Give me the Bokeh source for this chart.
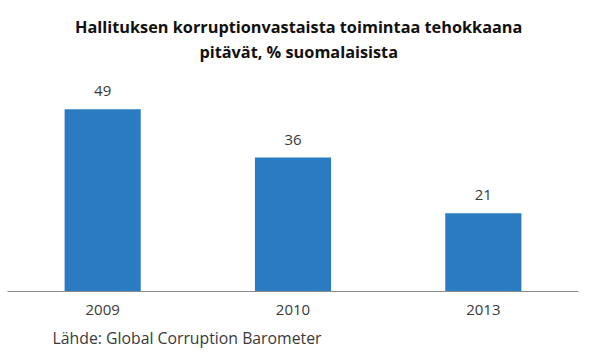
from bokeh.plotting import figure
from bokeh.models import ColumnDataSource, Range1d, LabelSet, Label, FactorRange, Title
from bokeh.core.properties import value
from bokeh.embed import file_html
from bokeh.resources import INLINE

years = ["2009", "2010", "2013"]
values = [49, 36, 21]
title_line1 = "Hallituksen korruptionvastaista toimintaa tehokkaana"
title_line2 = "pitävät, % suomalaisista"
source_text = "Lähde: Global Corruption Barometer"

FONT = "Open Sans"
BAR = "#2a7bc1"
TXT = "#3a3a3a"

src = ColumnDataSource(dict(x=years, top=values, lab=[str(v) for v in values]))

p = figure(x_range=FactorRange(*years, range_padding=0), y_range=Range1d(0, 78.2),
           frame_width=571, frame_height=291,
           min_border_left=7, min_border_right=6, min_border_top=0, min_border_bottom=57,
           output_backend="svg", toolbar_location=None, y_axis_location=None,
           outline_line_color=None, background_fill_color="white", border_fill_color="white")

p.vbar(x="x", top="top", width=0.4, source=src, fill_color=BAR, line_color=None)

p.xgrid.visible = False
p.ygrid.visible = False
ax = p.xaxis[0]
ax.axis_line_color = "#8c8c8c"
ax.axis_line_width = 1.2
ax.major_tick_line_color = None
ax.minor_tick_line_color = None
ax.major_tick_out = 0
ax.major_tick_in = 0
ax.major_label_standoff = 13
ax.major_label_text_font = FONT
ax.major_label_text_font_size = "15px"
ax.major_label_text_color = TXT

labels = LabelSet(x="x", y="top", text="lab", source=src, y_offset=18,
                  text_align="center", text_baseline="middle",
                  text_font=value(FONT), text_font_size=value("15px"), text_color=TXT)
p.add_layout(labels)

p.add_layout(Label(x=1.530, y=71.0, text=title_line1, text_align="center", text_baseline="middle",
                   text_font=FONT, text_font_style="bold", text_font_size="16.3px", text_color="#111111"))
p.add_layout(Label(x=1.530, y=64.4, text=title_line2, text_align="center", text_baseline="middle",
                   text_font=FONT, text_font_style="bold", text_font_size="16.3px", text_color="#111111"))

p.add_layout(Title(text=source_text, align="left", offset=45, standoff=14,
                   text_font=FONT, text_font_style="normal", text_font_size="15.8px",
                   text_color=TXT), "below")

open("out.html", "w").write(file_html(p, INLINE))
